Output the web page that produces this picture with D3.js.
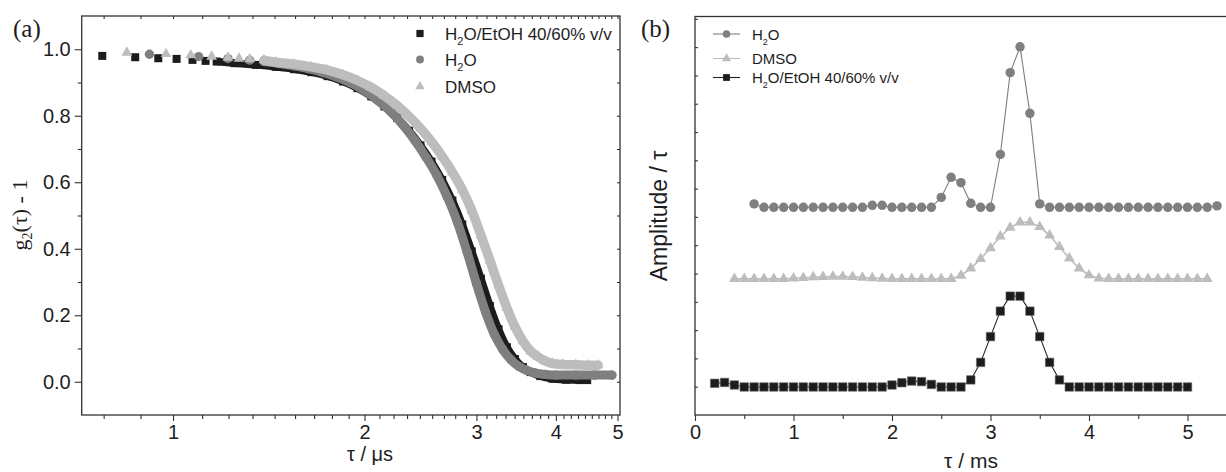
<!DOCTYPE html>
<html>
<head>
<meta charset="utf-8">
<script src="https://cdn.jsdelivr.net/npm/d3@7"></script>
<style>
  body { margin: 0; background: #fff; }
  svg { display: block; }
  text { fill: #1e1e1e; font-family: "Liberation Sans", Arial, sans-serif; }
</style>
</head>
<body>
<div id="chart"></div>
<script>
// ---- panel (a): g2(tau)-1 against tau, log axis ----
var aEtohTau = [0.774, 0.872, 0.948, 1.013, 1.073, 1.125, 1.171, 1.25, 1.35, 1.45, 1.55, 1.65, 1.75, 1.85, 1.95, 2.05, 2.15, 2.25, 2.35, 2.45, 2.55, 2.65, 2.75, 2.85, 2.95, 3.05, 3.15, 3.25, 3.35, 3.45, 3.55, 3.65, 3.78, 3.95, 4.15, 4.35, 4.48];
var aEtohG   = [0.980, 0.976, 0.973, 0.971, 0.968, 0.965, 0.963, 0.958, 0.953, 0.947, 0.940, 0.931, 0.919, 0.903, 0.883, 0.858, 0.828, 0.794, 0.755, 0.711, 0.662, 0.607, 0.545, 0.473, 0.392, 0.310, 0.228, 0.158, 0.104, 0.068, 0.044, 0.029, 0.017, 0.009, 0.006, 0.005, 0.005];

var aWaterTau = [0.918, 1.097, 1.22, 1.32, 1.39, 1.47, 1.55, 1.63, 1.71, 1.80, 1.90, 2.00, 2.10, 2.20, 2.30, 2.40, 2.50, 2.60, 2.70, 2.80, 2.90, 3.00, 3.10, 3.20, 3.30, 3.40, 3.50, 3.60, 3.70, 3.85, 4.00, 4.30, 4.60, 4.90];
var aWaterG   = [0.985, 0.978, 0.972, 0.967, 0.963, 0.957, 0.950, 0.942, 0.932, 0.918, 0.899, 0.875, 0.846, 0.812, 0.772, 0.726, 0.675, 0.620, 0.555, 0.480, 0.390, 0.295, 0.210, 0.143, 0.097, 0.066, 0.046, 0.034, 0.027, 0.022, 0.020, 0.020, 0.020, 0.020];

var aDmsoTau = [0.846, 0.975, 1.066, 1.15, 1.22, 1.27, 1.32, 1.39, 1.45, 1.55, 1.65, 1.75, 1.85, 1.95, 2.05, 2.15, 2.25, 2.35, 2.45, 2.55, 2.65, 2.75, 2.85, 2.95, 3.05, 3.15, 3.25, 3.35, 3.45, 3.55, 3.65, 3.75, 3.85, 3.95, 4.10, 4.30, 4.50, 4.66];
var aDmsoG   = [0.990, 0.986, 0.982, 0.978, 0.975, 0.972, 0.970, 0.967, 0.961, 0.955, 0.947, 0.937, 0.923, 0.906, 0.885, 0.860, 0.831, 0.798, 0.762, 0.722, 0.678, 0.630, 0.578, 0.515, 0.440, 0.365, 0.290, 0.222, 0.165, 0.122, 0.092, 0.075, 0.062, 0.055, 0.052, 0.051, 0.050, 0.050];

var aXTicks = [1, 2, 3, 4, 5];
var aYTicks = [0.0, 0.2, 0.4, 0.6, 0.8, 1.0];

// ---- panel (b): amplitude distributions ----
var bEtohTau = [0.2, 0.3, 0.4, 0.5, 0.6, 0.7, 0.8, 0.9, 1.0, 1.1, 1.2, 1.3, 1.4, 1.5, 1.6, 1.7, 1.8, 1.9, 2.0, 2.1, 2.2, 2.3, 2.4, 2.5, 2.6, 2.7, 2.8, 2.9, 3.0, 3.1, 3.2, 3.3, 3.4, 3.5, 3.6, 3.7, 3.8, 3.9, 4.0, 4.1, 4.2, 4.3, 4.4, 4.5, 4.6, 4.7, 4.8, 4.9, 5.0];
var bEtohAmp = [1.12, 1.15, 1.06, 0.99, 0.99, 0.99, 0.99, 0.99, 0.99, 0.99, 0.99, 0.99, 0.99, 0.99, 0.99, 0.99, 0.99, 0.99, 1.06, 1.14, 1.20, 1.18, 1.08, 0.99, 0.99, 0.99, 1.24, 1.86, 2.77, 3.67, 4.20, 4.20, 3.67, 2.77, 1.86, 1.24, 0.99, 0.99, 0.99, 0.99, 0.99, 0.99, 0.99, 0.99, 0.99, 0.99, 0.99, 0.99, 0.99];

var bWaterTau = [0.6, 0.7, 0.8, 0.9, 1.0, 1.1, 1.2, 1.3, 1.4, 1.5, 1.6, 1.7, 1.8, 1.9, 2.0, 2.1, 2.2, 2.3, 2.4, 2.5, 2.6, 2.7, 2.8, 2.9, 3.0, 3.1, 3.2, 3.3, 3.4, 3.5, 3.6, 3.7, 3.8, 3.9, 4.0, 4.1, 4.2, 4.3, 4.4, 4.5, 4.6, 4.7, 4.8, 4.9, 5.0, 5.1, 5.2, 5.3];
var bWaterAmp = [7.46, 7.34, 7.34, 7.34, 7.34, 7.34, 7.34, 7.34, 7.34, 7.34, 7.34, 7.34, 7.41, 7.41, 7.34, 7.34, 7.34, 7.34, 7.34, 7.69, 8.40, 8.21, 7.48, 7.34, 7.34, 9.21, 12.10, 13.01, 10.66, 7.46, 7.34, 7.34, 7.34, 7.34, 7.34, 7.34, 7.34, 7.34, 7.34, 7.34, 7.34, 7.34, 7.34, 7.34, 7.34, 7.34, 7.34, 7.39];

var bDmsoTau = [0.4, 0.5, 0.6, 0.7, 0.8, 0.9, 1.0, 1.1, 1.2, 1.3, 1.4, 1.5, 1.6, 1.7, 1.8, 1.9, 2.0, 2.1, 2.2, 2.3, 2.4, 2.5, 2.6, 2.7, 2.8, 2.9, 3.0, 3.1, 3.2, 3.3, 3.4, 3.5, 3.6, 3.7, 3.8, 3.9, 4.0, 4.1, 4.2, 4.3, 4.4, 4.5, 4.6, 4.7, 4.8, 4.9, 5.0, 5.1, 5.2];
var bDmsoAmp = [4.81, 4.81, 4.81, 4.81, 4.81, 4.81, 4.83, 4.85, 4.87, 4.88, 4.89, 4.89, 4.88, 4.86, 4.84, 4.82, 4.81, 4.81, 4.81, 4.81, 4.81, 4.81, 4.81, 4.93, 5.18, 5.52, 5.90, 6.31, 6.62, 6.81, 6.81, 6.65, 6.35, 5.94, 5.54, 5.18, 4.94, 4.83, 4.81, 4.81, 4.81, 4.81, 4.81, 4.81, 4.81, 4.81, 4.81, 4.81, 4.81];

var bXTicks = [0, 1, 2, 3, 4, 5];

var cBlack = "#1c1c1c", cGrey = "#7f7f7f", cLight = "#bdbdbd", cAxis = "#333";

var svg = d3.select("#chart").append("svg")
    .attr("width", 1226)
    .attr("height", 472);

function pts(t, v) { return t.map(function(d, i) { return {t: d, v: v[i]}; }); }

function styleTicks(g, size) {
  g.select(".domain").remove();
  g.selectAll(".tick line").attr("stroke", cAxis).attr("stroke-width", 1.1);
  g.selectAll(".tick text").attr("fill", "#1e1e1e")
    .style("font-family", "'Liberation Sans', Arial, sans-serif")
    .style("font-size", size + "px");
}

// ================= panel (a) =================
var ax = d3.scaleLog().domain([0.7184, 5.045]).range([81.7, 620]);
var ay = d3.scaleLinear().domain([-0.1, 1.1]).range([415, 16]);

var aMinor = [0.7778, 0.8889];
[1, 2, 3, 4].forEach(function(i) { for (var k = 1; k < 9; k++) aMinor.push(i + k / 9); });
var aYMinor = [0.1, 0.3, 0.5, 0.7, 0.9];

var ga = svg.append("g");

// bottom axis (outward ticks)
ga.append("g").attr("transform", "translate(0,415)")
  .call(d3.axisBottom(ax).tickValues(aMinor).tickFormat("").tickSize(4))
  .call(styleTicks, 20);
ga.append("g").attr("transform", "translate(0,415)")
  .call(d3.axisBottom(ax).tickValues(aXTicks).tickFormat(d3.format("d")).tickSize(6).tickPadding(4))
  .call(styleTicks, 20);
// top mirror (inward)
ga.append("g").attr("transform", "translate(0,16)")
  .call(d3.axisTop(ax).tickValues(aMinor.concat(aXTicks)).tickFormat("").tickSize(-3))
  .call(styleTicks, 20);
// left axis
ga.append("g").attr("transform", "translate(81.7,0)")
  .call(d3.axisLeft(ay).tickValues(aYMinor).tickFormat("").tickSize(4))
  .call(styleTicks, 20);
ga.append("g").attr("transform", "translate(81.7,0)")
  .call(d3.axisLeft(ay).tickValues(aYTicks).tickFormat(d3.format(".1f")).tickSize(7).tickPadding(4))
  .call(styleTicks, 20);
// right mirror (inward)
ga.append("g").attr("transform", "translate(620,0)")
  .call(d3.axisRight(ay).tickValues(aYTicks.concat(aYMinor)).tickFormat("").tickSize(-3))
  .call(styleTicks, 20);

ga.append("rect").attr("x", 81.7).attr("y", 16).attr("width", 620 - 81.7).attr("height", 415 - 16)
  .attr("fill", "none").attr("stroke", cAxis).attr("stroke-width", 1.3);

var aSeries = [
  {name: "etoh",  tau: aEtohTau,  g: aEtohG,  color: cBlack, sym: d3.symbolSquare,   size: 64, band: 1.17, bw: 7.5},
  {name: "water", tau: aWaterTau, g: aWaterG, color: cGrey,  sym: d3.symbolCircle,   size: 68, band: 1.39, bw: 9},
  {name: "dmso",  tau: aDmsoTau,  g: aDmsoG,  color: cLight, sym: d3.symbolTriangle, size: 50, band: 1.39, bw: 9.5}
];

var aLine = d3.line().x(function(d) { return ax(d.t); }).y(function(d) { return ay(d.v); })
  .curve(d3.curveMonotoneX);

aSeries.forEach(function(s) {
  var data = pts(s.tau, s.g);
  var g = ga.append("g").attr("class", "series-" + s.name);
  g.append("path")
    .datum(data.filter(function(d) { return d.t >= s.band; }))
    .attr("d", aLine)
    .attr("fill", "none")
    .attr("stroke", s.color)
    .attr("stroke-width", s.bw)
    .attr("stroke-linecap", "round")
    .attr("stroke-linejoin", "round");
  g.selectAll("path.pt").data(data).enter().append("path")
    .attr("class", "pt")
    .attr("d", d3.symbol().type(s.sym).size(s.size))
    .attr("transform", function(d) { return "translate(" + ax(d.t) + "," + ay(d.v) + ")"; })
    .attr("fill", s.color);
});

// legend (a)
var aLegend = [
  {sym: d3.symbolSquare, color: cBlack, size: 52, y: 33.5, label: ["H", "2", "O/EtOH 40/60% v/v"]},
  {sym: d3.symbolCircle, color: cGrey, size: 48, y: 59.5, label: ["H", "2", "O"]},
  {sym: d3.symbolTriangle, color: cLight, size: 38, y: 86.5, label: ["DMSO"]}
];
aLegend.forEach(function(l) {
  ga.append("path").attr("d", d3.symbol().type(l.sym).size(l.size))
    .attr("transform", "translate(420," + l.y + ")").attr("fill", l.color);
  var t = ga.append("text").attr("x", 445).attr("y", l.y + 6).style("font-size", "17px");
  if (l.label.length === 1) { t.text(l.label[0]); }
  else {
    t.append("tspan").text(l.label[0]);
    t.append("tspan").attr("dy", 5).style("font-size", "11px").text(l.label[1]);
    t.append("tspan").attr("dy", -5).text(l.label[2]);
  }
});

// titles (a)
ga.append("text").attr("x", 13).attr("y", 36.5)
  .style("font-family", "'Liberation Serif', 'Times New Roman', serif").style("font-size", "25px").text("(a)");
ga.append("text").attr("x", 370).attr("y", 461).attr("text-anchor", "middle")
  .style("font-size", "20px").text("τ / μs");
var yta = ga.append("text").attr("transform", "translate(27,215) rotate(-90)").attr("text-anchor", "middle")
  .style("font-family", "'Liberation Serif', 'Times New Roman', serif").style("font-size", "22px");
yta.append("tspan").text("g");
yta.append("tspan").attr("dy", 5).style("font-size", "14px").text("2");
yta.append("tspan").attr("dy", -5).text("(τ) - 1");

// ================= panel (b) =================
var bx = d3.scaleLinear().domain([0, 5.5]).range([695, 1236.75]);
var by = d3.scaleLinear().domain([0, 14.1]).range([415, 16]);

var bXMinor = [0.5, 1.5, 2.5, 3.5, 4.5];
var bYTicks = d3.range(1, 15);

var gb = svg.append("g");
gb.append("g").attr("transform", "translate(0,415)")
  .call(d3.axisBottom(bx).tickValues(bXMinor).tickFormat("").tickSize(4))
  .call(styleTicks, 20);
gb.append("g").attr("transform", "translate(0,415)")
  .call(d3.axisBottom(bx).tickValues(bXTicks).tickFormat(d3.format("d")).tickSize(6).tickPadding(4))
  .call(styleTicks, 20);
gb.append("g").attr("transform", "translate(695,0)")
  .call(d3.axisLeft(by).tickValues(bYTicks).tickFormat("").tickSize(-3))
  .call(styleTicks, 20);
gb.append("rect").attr("x", 695).attr("y", 16.5).attr("width", 1236.75 - 695).attr("height", 415 - 16.5)
  .attr("fill", "none").attr("stroke", cAxis).attr("stroke-width", 1.3);

var bSeries = [
  {name: "water", tau: bWaterTau, amp: bWaterAmp, color: cGrey,  line: cGrey,  lw: 1.1, sym: d3.symbolCircle,   size: 70},
  {name: "dmso",  tau: bDmsoTau,  amp: bDmsoAmp,  color: cLight, line: cLight, lw: 1.6, sym: d3.symbolTriangle, size: 52},
  {name: "etoh",  tau: bEtohTau,  amp: bEtohAmp,  color: cBlack, line: "#222", lw: 1.1, sym: d3.symbolSquare,   size: 72}
];
var bLine = d3.line().x(function(d) { return bx(d.t); }).y(function(d) { return by(d.v); });

bSeries.forEach(function(s) {
  var data = pts(s.tau, s.amp);
  var g = gb.append("g").attr("class", "series-" + s.name);
  g.append("path").datum(data).attr("d", bLine)
    .attr("fill", "none").attr("stroke", s.line).attr("stroke-width", s.lw);
  g.selectAll("path.pt").data(data).enter().append("path")
    .attr("class", "pt")
    .attr("d", d3.symbol().type(s.sym).size(s.size))
    .attr("transform", function(d) { return "translate(" + bx(d.t) + "," + by(d.v) + ")"; })
    .attr("fill", s.color)
    .attr("stroke", s.name === "etoh" ? "#666" : "none")
    .attr("stroke-width", 0.6);
});

// legend (b)
var bLegend = [
  {sym: d3.symbolCircle, color: cGrey, line: cGrey, size: 44, y: 34, label: ["H", "2", "O"]},
  {sym: d3.symbolTriangle, color: cLight, line: cLight, size: 36, y: 58.5, label: ["DMSO"]},
  {sym: d3.symbolSquare, color: cBlack, line: "#222", size: 46, y: 77.5, label: ["H", "2", "O/EtOH 40/60% v/v"]}
];
bLegend.forEach(function(l) {
  gb.append("line").attr("x1", 713).attr("x2", 740).attr("y1", l.y).attr("y2", l.y)
    .attr("stroke", l.line).attr("stroke-width", 1.1);
  gb.append("path").attr("d", d3.symbol().type(l.sym).size(l.size))
    .attr("transform", "translate(726.5," + l.y + ")").attr("fill", l.color);
  var t = gb.append("text").attr("x", 752).attr("y", l.y + 5.5).style("font-size", "15px");
  if (l.label.length === 1) { t.text(l.label[0]); }
  else {
    t.append("tspan").text(l.label[0]);
    t.append("tspan").attr("dy", 5).style("font-size", "9px").text(l.label[1]);
    t.append("tspan").attr("dy", -5).text(l.label[2]);
  }
});

gb.append("text").attr("x", 641).attr("y", 36.5)
  .style("font-family", "'Liberation Serif', 'Times New Roman', serif").style("font-size", "25px").text("(b)");
gb.append("text").attr("x", 971).attr("y", 468).attr("text-anchor", "middle")
  .style("font-size", "21px").text("τ / ms");
gb.append("text").attr("transform", "translate(667,216) rotate(-90)").attr("text-anchor", "middle")
  .style("font-size", "23px").text("Amplitude / τ");
</script>
</body>
</html>
